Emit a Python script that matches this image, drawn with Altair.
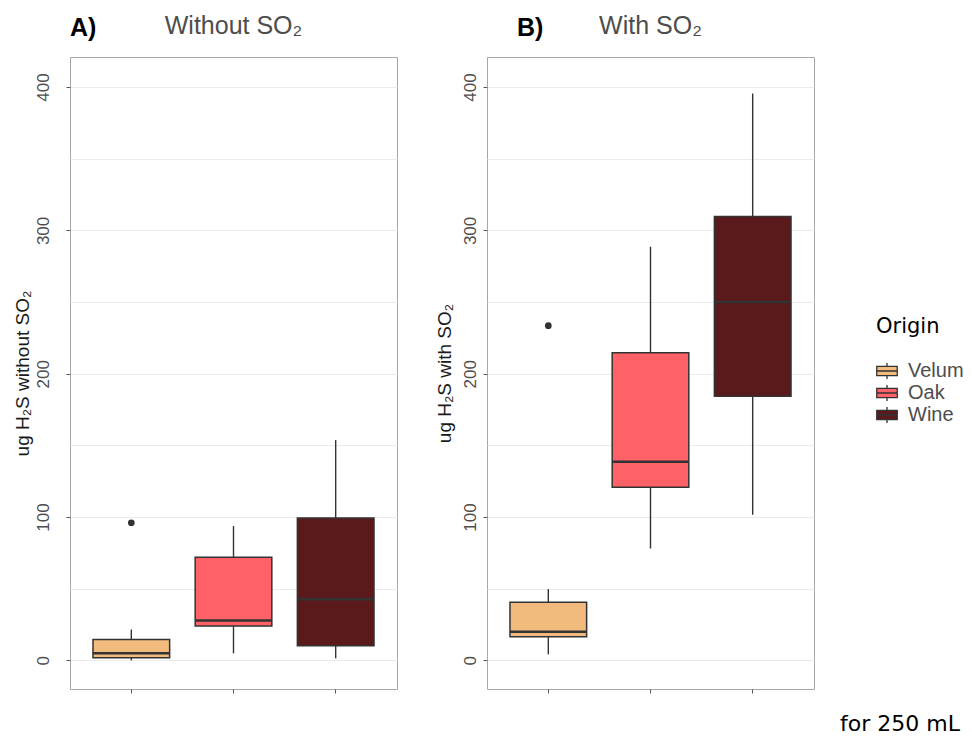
import altair as alt
import pandas as pd

origins = ["Velum", "Oak", "Wine"]
colors = ["#F0BB7C", "#FE6167", "#5A1A1B"]

# Panel A: without SO2 (box statistics)
a_lower = [0.0, 4.9, 1.4]
a_q1 = [1.8, 24.0, 10.1]
a_median = [4.9, 27.8, 42.6]
a_q3 = [14.6, 71.9, 99.3]
a_upper = [21.5, 93.7, 153.7]
a_out_origin = ["Velum"]
a_out_value = [96.0]

# Panel B: with SO2
b_lower = [4.2, 78.0, 101.6]
b_q1 = [16.4, 120.8, 184.2]
b_median = [19.9, 138.6, 250.0]
b_q3 = [40.5, 214.6, 309.7]
b_upper = [49.7, 288.6, 395.6]
b_out_origin = ["Velum"]
b_out_value = [233.5]

y_ticks = [0, 50, 100, 150, 200, 250, 300, 350, 400]

LEGEND_PATH = ("M-1,-0.46H1V0.46H-1Z M-1,0H1 M0,-0.46V-0.78 M0,0.46V0.78")

W, H = 327, 632


def panel(lower, q1, med, q3, upper, out_o, out_v, tag, tag_x, title, ytitle,
          label_pad, title_pad, caption=None):
    df = pd.DataFrame({"Origin": origins, "lower": lower, "q1": q1,
                       "median": med, "q3": q3, "upper": upper})
    dfo = pd.DataFrame({"Origin": out_o, "value": out_v})

    x = alt.X("Origin:N", sort=origins,
              scale=alt.Scale(domain=origins, paddingInner=0.25, paddingOuter=0.225),
              axis=alt.Axis(labels=False, title=None, domain=False, grid=False,
                            ticks=True, tickSize=4, tickColor="#555555"))
    yscale = alt.Scale(domain=[-20, 421], nice=False, zero=False)
    yaxis = alt.Axis(
        values=y_ticks,
        labelExpr="datum.value % 100 == 0 ? datum.label : ''",
        tickOpacity={"condition": {"test": "datum.value % 100 != 0", "value": 0}, "value": 1},
        grid=True, gridColor="#ebebeb", gridWidth=1,
        domain=False, tickSize=4, tickColor="#555555",
        labelAngle=270, labelFontSize=17, labelColor="#4d4d4d",
        labelFont="Liberation Sans", labelPadding=label_pad,
        title=ytitle, titleFontSize=19, titleColor="#1a1a1a",
        titleFont="Liberation Sans", titleFontWeight="normal",
        titlePadding=title_pad,
    )
    color = alt.Color(
        "Origin:N", sort=origins,
        scale=alt.Scale(domain=origins, range=colors),
        legend=alt.Legend(
            title="Origin", titleFont="DejaVu Sans", titleFontSize=21,
            titleFontWeight="normal", titleColor="#000000", titlePadding=23,
            labelFont="Liberation Sans", labelFontSize=20, labelColor="#4d4d4d",
            symbolType=LEGEND_PATH, symbolSize=420, symbolStrokeColor="#333333",
            symbolStrokeWidth=1.3, symbolOpacity=1, labelOffset=10,
            rowPadding=0, orient="none", legendX=806, legendY=259, padding=0,
        ),
    )

    base = alt.Chart(df)
    whisk = base.mark_rule(color="#333333", strokeWidth=1.4).encode(
        x=x, y=alt.Y("lower:Q", scale=yscale, axis=yaxis), y2="upper:Q")
    box = base.mark_bar(stroke="#333333", strokeWidth=1.5, opacity=1).encode(
        x=x, y="q1:Q", y2="q3:Q", color=color)
    median_line = base.mark_bar(stroke="#333333", strokeWidth=2.4, fillOpacity=0).encode(
        x=x, y="median:Q", y2="median:Q")
    outl = alt.Chart(dfo).mark_point(filled=True, color="#333333", size=45, opacity=1).encode(
        x=x, y="value:Q")
    tag_text = alt.Chart(pd.DataFrame({"t": [tag]})).mark_text(
        align="left", baseline="middle", fontSize=25, fontWeight="bold",
        font="Liberation Sans", color="#000000").encode(
        text="t:N", x=alt.value(tag_x), y=alt.value(-29))
    title_text = alt.Chart(pd.DataFrame({"t": [title]})).mark_text(
        align="center", baseline="middle", fontSize=25,
        font="Liberation Sans", color="#4d4d4d").encode(
        text="t:N", x=alt.value(W / 2), y=alt.value(-31))
    layers = [whisk, box, median_line, outl, tag_text, title_text]
    if caption:
        cap = alt.Chart(pd.DataFrame({"t": [caption]})).mark_text(
            align="right", baseline="middle", fontSize=22,
            font="DejaVu Sans", color="#000000").encode(
            text="t:N", x=alt.value(W + 146), y=alt.value(H + 35))
        layers.append(cap)
    return alt.layer(*layers).properties(width=W, height=H)


pa = panel(a_lower, a_q1, a_median, a_q3, a_upper, a_out_origin, a_out_value,
           "A)", 0, "Without SO₂", "ug H₂S without SO₂", 14, 2)
pb = panel(b_lower, b_q1, b_median, b_q3, b_upper, b_out_origin, b_out_value,
           "B)", 30, "With SO₂", "ug H₂S with SO₂", 4, 7, caption="for 250 mL")

chart = alt.hconcat(pa, pb, spacing=36).properties(
    padding={"top": 5, "left": 4, "right": 0, "bottom": 0},
).configure_view(stroke="#a6a6a6", strokeWidth=1)

chart.save("out.html", embed_options={"renderer": "svg", "actions": False})
